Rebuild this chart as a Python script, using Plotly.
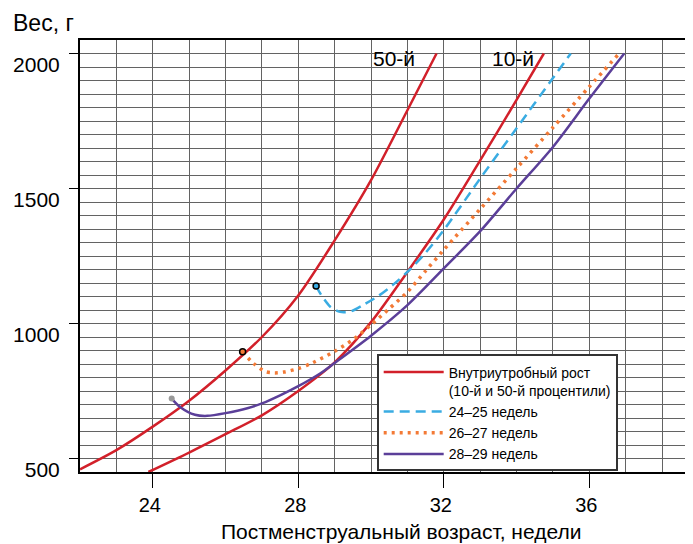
import plotly.graph_objects as go

# ---- data ----
p50_weeks = [22, 23, 24, 25, 26, 27, 28, 29, 30, 31, 31.8]
p50_weight = [460, 531, 618, 714, 826, 950, 1104, 1308, 1531, 1790, 2000]

p10_weeks = [23.88, 25, 26, 27, 28, 29, 30, 31, 32, 33, 34, 34.75]
p10_weight = [450, 522, 590, 660, 750, 856, 1005, 1191, 1385, 1604, 1828, 2000]

g2425_weeks = [28.49, 28.62, 28.88, 29.15, 29.45, 29.8, 30.2, 30.6, 31, 31.5, 32, 33, 34, 35, 35.49]
g2425_weight = [1139, 1108, 1062, 1043, 1045, 1070, 1102, 1143, 1191, 1262, 1346, 1537, 1723, 1909, 2000]

g2627_weeks = [26.47, 26.77, 27.09, 27.35, 27.6, 28, 28.4, 29, 29.5, 30, 30.5, 31, 31.5, 32, 33, 34, 35, 36, 36.82]
g2627_weight = [895, 852, 822, 817, 820, 833, 855, 897, 940, 995, 1055, 1117, 1195, 1273, 1424, 1575, 1726, 1877, 2000]

g2829_weeks = [24.52, 24.75, 25.16, 25.5, 26, 26.6, 27, 27.5, 28, 28.6, 29, 30, 31, 32, 33, 34, 35, 36, 36.96]
g2829_weight = [722, 691, 662, 658, 668, 686, 704, 734, 768, 815, 854, 955, 1068, 1204, 1342, 1500, 1654, 1833, 2000]

x_ticks = [24, 28, 32, 36]
y_ticks = [500, 1000, 1500, 2000]

legend_names = [
    "Внутриутробный рост<br>(10-й и 50-й процентили)",
    "24–25 недель",
    "26–27 недель",
    "28–29 недель",
]
x_title = "Постменструальный возраст, недели"
y_title = "Вес, г"

RED = "#d2202a"
BLUE = "#3aace2"
ORANGE = "#f37a36"
PURPLE = "#5b3f99"
GRID = "#636363"
FONT = "Liberation Sans"

fig = go.Figure()

fig.add_trace(go.Scatter(x=p50_weeks, y=p50_weight, mode="lines", name=legend_names[0],
                         legendgroup="ref", line=dict(color=RED, width=2.5, shape="spline", smoothing=0.8)))
fig.add_trace(go.Scatter(x=p10_weeks, y=p10_weight, mode="lines", name=legend_names[0],
                         legendgroup="ref", showlegend=False,
                         line=dict(color=RED, width=2.5, shape="spline", smoothing=0.8)))
fig.add_trace(go.Scatter(x=g2425_weeks, y=g2425_weight, mode="lines", name=legend_names[1],
                         line=dict(color=BLUE, width=2.5, dash="10px,6px", shape="spline", smoothing=0.8)))
fig.add_trace(go.Scatter(x=g2627_weeks, y=g2627_weight, mode="lines", name=legend_names[2],
                         line=dict(color=ORANGE, width=3.5, dash="3px,5px", shape="spline", smoothing=0.8)))
fig.add_trace(go.Scatter(x=g2829_weeks, y=g2829_weight, mode="lines", name=legend_names[3],
                         line=dict(color=PURPLE, width=2.5, shape="spline", smoothing=0.8)))

# start points
fig.add_trace(go.Scatter(x=[g2425_weeks[0]], y=[g2425_weight[0]], mode="markers", showlegend=False,
                         marker=dict(size=6, color=BLUE, line=dict(color="black", width=1.5))))
fig.add_trace(go.Scatter(x=[g2627_weeks[0]], y=[g2627_weight[0]], mode="markers", showlegend=False,
                         marker=dict(size=6, color=ORANGE, line=dict(color="black", width=1.5))))
fig.add_trace(go.Scatter(x=[g2829_weeks[0]], y=[g2829_weight[0]], mode="markers", showlegend=False,
                         marker=dict(size=6, color="#999999", line=dict(width=0))))

# the page body adds an 8px margin, so the figure is 8px smaller than the window
fig.update_layout(
    width=685, height=536,
    margin=dict(l=72, r=0, t=32, b=72),
    paper_bgcolor="white", plot_bgcolor="white",
    font=dict(family=FONT, color="black", size=20),
    showlegend=True,
    legend=dict(x=0.484, y=0.272, xanchor="left", yanchor="top",
                bgcolor="white", bordercolor="#333333", borderwidth=2,
                font=dict(size=14, family=FONT), valign="top",
                tracegroupgap=0, itemwidth=60),
)

fig.update_xaxes(
    range=[22, 38.85], tickvals=x_ticks, ticktext=[str(v) for v in x_ticks],
    ticks="outside", ticklen=14, tickcolor="black", tickwidth=1,
    showgrid=True, gridcolor=GRID, gridwidth=1,
    minor=dict(dtick=1, tick0=22, showgrid=True, gridcolor=GRID, gridwidth=1, ticks=""),
    showline=True, linecolor="black", linewidth=2, mirror=True, zeroline=False,
    tickfont=dict(size=20), ticklabelshift=-3, automargin=False,
)
fig.update_yaxes(
    range=[450, 2050], tickvals=y_ticks, ticktext=[str(v) for v in y_ticks],
    ticks="outside", ticklen=9, tickcolor="black", tickwidth=1,
    showgrid=True, gridcolor=GRID, gridwidth=1,
    minor=dict(dtick=50, tick0=0, showgrid=True, gridcolor=GRID, gridwidth=1, ticks=""),
    showline=True, linecolor="black", linewidth=2, mirror=False, zeroline=False,
    tickfont=dict(size=21), ticklabelshift=11, ticklabelstandoff=5, automargin=False,
)

fig.add_annotation(text=x_title, xref="paper", yref="paper", x=0.5236, y=-0.138,
                   xanchor="center", yanchor="middle", showarrow=False, font=dict(size=21))
fig.add_annotation(text=y_title, xref="paper", yref="paper", x=-0.1126, y=1.039,
                   xanchor="left", yanchor="middle", showarrow=False, font=dict(size=23))
fig.add_annotation(text="50-й", xref="x", yref="y", x=30.63, y=1981,
                   xanchor="center", yanchor="middle", showarrow=False, font=dict(size=21))
fig.add_annotation(text="10-й", xref="x", yref="y", x=33.89, y=1981,
                   xanchor="center", yanchor="middle", showarrow=False, font=dict(size=21))

fig.write_html("out.html")
